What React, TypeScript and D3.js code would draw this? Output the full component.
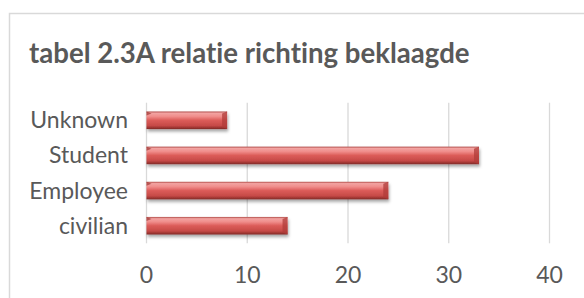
import React from "react";
import * as d3 from "d3";

const categories = ["Unknown", "Student", "Employee", "civilian"];
const values = [8, 33, 24, 14];
const xTicks = [0, 10, 20, 30, 40];
const title = "tabel 2.3A relatie richting beklaagde";

const W = 584;
const H = 298;
const textColor = "#595959";
const gridColor = "#d9d9d9";
const font = "Lato, 'Open Sans', sans-serif";

export default function App() {
  const x = d3.scaleLinear().domain([0, 40]).range([146.5, 549.5]);
  const y = d3.scaleBand().domain(categories).range([102.7, 243.3]).paddingInner(0.5).paddingOuter(0.25);
  const bh = y.bandwidth();

  return (
    <svg width={W} height={H} style={{ position: "absolute", left: 0, top: 0, fontVariantLigatures: "none" }}>
      <defs>
        <linearGradient id="barGrad" x1="0" y1="0" x2="0" y2="1">
          <stop offset="0" stopColor="#b04a47" />
          <stop offset="0.1" stopColor="#f2a3a1" />
          <stop offset="0.28" stopColor="#f08d8b" />
          <stop offset="0.5" stopColor="#dc5c59" />
          <stop offset="0.8" stopColor="#c64a47" />
          <stop offset="0.92" stopColor="#9e3532" />
          <stop offset="1" stopColor="#7e2a28" />
        </linearGradient>
        <filter id="shadow" x="-10%" y="-30%" width="120%" height="180%">
          <feDropShadow dx="1" dy="2.5" stdDeviation="1.6" floodColor="#000" floodOpacity="0.35" />
        </filter>
      </defs>
      <rect x={9.5} y={13.5} width={W} height={H} fill="#fff" stroke={gridColor} strokeWidth={1.5} />
      <text x={29} y={63} fill={textColor} fontFamily={font} fontWeight="bold" fontSize={27.6}>
        {title}
      </text>
      {xTicks.map((t) => (
        <g key={t}>
          <line x1={x(t)} x2={x(t)} y1={102.7} y2={243.3} stroke={gridColor} strokeWidth={1.3} />
          <text x={x(t)} y={282.5} textAnchor="middle" fill={textColor} fontFamily={font} fontSize={23}>
            {t}
          </text>
        </g>
      ))}
      {categories.map((c, i) => {
        const y0 = y(c)!;
        const x0 = x(0);
        const x1 = x(values[i]);
        const b = Math.min(5, (x1 - x0) / 2);
        return (
          <g key={c}>
            <text x={128} y={y0 + bh / 2} dy="0.35em" textAnchor="end" fill={textColor} fontFamily={font} fontSize={23}>
              {c}
            </text>
            <g filter="url(#shadow)">
              <rect x={x0} y={y0} width={x1 - x0} height={bh} fill="url(#barGrad)" />
            </g>
            <polygon
              points={`${x1 - b},${y0 + 2} ${x1},${y0} ${x1},${y0 + bh} ${x1 - b},${y0 + bh - 2}`}
              fill="#b03c39"
              opacity={0.75}
            />
            <polygon points={`${x0},${y0} ${x0 + b},${y0 + 2} ${x0},${y0 + 4}`} fill="#9e3532" opacity={0.7} />
          </g>
        );
      })}
    </svg>
  );
}
